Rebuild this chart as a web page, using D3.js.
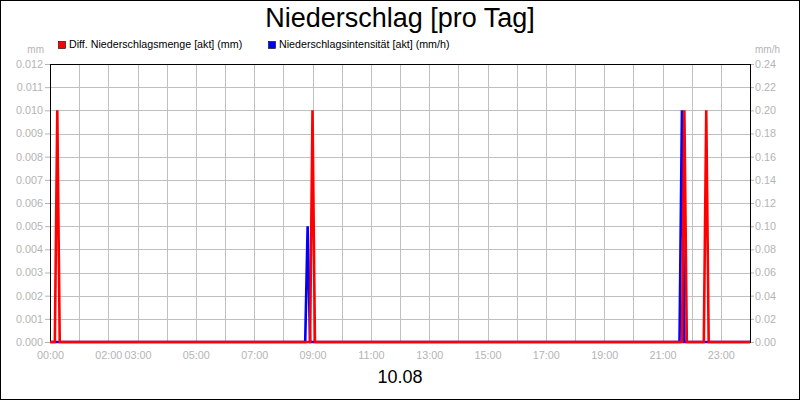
<!DOCTYPE html>
<html>
<head>
<meta charset="utf-8">
<script src="https://cdn.jsdelivr.net/npm/d3@7"></script>
<style>
  html, body { margin: 0; padding: 0; background: #fff; }
  svg { display: block; }
  text { font-family: "Liberation Sans", Arial, sans-serif; }
</style>
</head>
<body>
<svg id="chart" width="800" height="400"></svg>
<script>
// ---- data ----
const title = "Niederschlag [pro Tag]";
const dateLabel = "10.08";
const seriesNames = ["Diff. Niederschlagsmenge [akt] (mm)", "Niederschlagsintensität [akt] (mm/h)"];
const seriesColors = ["#ff0000", "#0000ff"];
// red series (mm), times in "HH:MM"
const amountTimes  = ["00:00","00:10","00:15","00:20","08:55","09:00","09:05","21:40","21:45","21:50","22:25","22:30","22:35","24:00"];
const amountValues = [0, 0, 0.010, 0, 0, 0.010, 0, 0, 0.010, 0, 0, 0.010, 0, 0];
// blue series (mm/h)
const intensityTimes  = ["00:00","08:45","08:50","08:55","21:35","21:40","21:45","24:00"];
const intensityValues = [0, 0, 0.10, 0, 0, 0.20, 0, 0];
// axis ticks
const xTickLabels = ["00:00","02:00","03:00","05:00","07:00","09:00","11:00","13:00","15:00","17:00","19:00","21:00","23:00"];
const leftTicks  = [0,0.001,0.002,0.003,0.004,0.005,0.006,0.007,0.008,0.009,0.010,0.011,0.012];
const rightTicks = [0,0.02,0.04,0.06,0.08,0.10,0.12,0.14,0.16,0.18,0.20,0.22,0.24];
const hourGrid = d3.range(0, 25);

// ---- layout ----
const W = 800, H = 400;
const m = { left: 50, right: 750, top: 64, bottom: 342 };
const svg = d3.select("#chart");
const gray = "#b4b4b4";

const toH = s => { const [h, mm] = s.split(":").map(Number); return h + mm / 60; };

const x = d3.scaleLinear().domain([0, 24]).range([m.left, m.right]);
const yL = d3.scaleLinear().domain([0, 0.012]).range([m.bottom, m.top]);
const yR = d3.scaleLinear().domain([0, 0.24]).range([m.bottom, m.top]);

// outer border
svg.append("rect").attr("x", 0.5).attr("y", 0.5).attr("width", W - 1).attr("height", H - 1)
  .attr("fill", "#fff").attr("stroke", "#000");

// title
svg.append("text").attr("x", 400).attr("y", 27).attr("text-anchor", "middle")
  .attr("font-size", 27).attr("fill", "#000").text(title);

// date label
svg.append("text").attr("x", 400).attr("y", 383).attr("text-anchor", "middle")
  .attr("font-size", 18).attr("fill", "#000").text(dateLabel);

// legend
const legX = [58, 268];
seriesNames.forEach((n, i) => {
  svg.append("rect").attr("x", legX[i] + 0.5).attr("y", 41.5).attr("width", 7).attr("height", 7)
    .attr("fill", seriesColors[i]).attr("stroke", "#000").attr("stroke-width", 0.6);
  svg.append("text").attr("x", legX[i] + 11).attr("y", 48).attr("font-size", 10.7)
    .attr("fill", "#000").text(n);
});

// unit labels
svg.append("text").attr("x", 44).attr("y", 52.5).attr("text-anchor", "end")
  .attr("font-size", 10).attr("fill", gray).text("mm");
svg.append("text").attr("x", 755).attr("y", 52.5).attr("text-anchor", "start")
  .attr("font-size", 10).attr("fill", gray).text("mm/h");

// grid
const grid = svg.append("g").attr("stroke", "#c0c0c0").attr("stroke-width", 1).attr("shape-rendering", "crispEdges");
grid.selectAll("line.v").data(hourGrid.slice(1, 24)).join("line")
  .attr("x1", d => Math.round(x(d)) + 0.5).attr("x2", d => Math.round(x(d)) + 0.5)
  .attr("y1", m.top).attr("y2", m.bottom);
grid.selectAll("line.h").data(leftTicks.slice(1, 12)).join("line")
  .attr("x1", m.left).attr("x2", m.right)
  .attr("y1", d => Math.round(yL(d)) + 0.5).attr("y2", d => Math.round(yL(d)) + 0.5);

// left axis
const axL = d3.axisLeft(yL).tickValues(leftTicks).tickFormat(d3.format(".3f")).tickSize(5).tickPadding(2);
const gL = svg.append("g").attr("transform", `translate(${m.left},0)`).call(axL);
gL.select(".domain").remove();
gL.selectAll("line").attr("stroke", gray);
gL.selectAll("text").attr("fill", gray).attr("font-size", 10.8).attr("font-family", "Liberation Sans, Arial, sans-serif");

// right axis
const axR = d3.axisRight(yR).tickValues(rightTicks).tickFormat(d3.format(".2f")).tickSize(4).tickPadding(1);
const gR = svg.append("g").attr("transform", `translate(${m.right},0)`).call(axR);
gR.select(".domain").remove();
gR.selectAll("line").attr("stroke", gray);
gR.selectAll("text").attr("fill", gray).attr("font-size", 10.8).attr("font-family", "Liberation Sans, Arial, sans-serif");

// bottom axis labels
const axB = d3.axisBottom(x).tickValues(xTickLabels.map(toH)).tickFormat((d, i) => xTickLabels[i]).tickSize(0).tickPadding(9);
const gB = svg.append("g").attr("transform", `translate(0,${m.bottom})`).call(axB);
gB.select(".domain").remove();
gB.selectAll("text").attr("fill", gray).attr("font-size", 10.8).attr("font-family", "Liberation Sans, Arial, sans-serif");

// plot frame
svg.append("rect").attr("x", m.left + 0.5).attr("y", m.top + 0.5)
  .attr("width", m.right - m.left).attr("height", m.bottom - m.top)
  .attr("fill", "none").attr("stroke", "#000");

// lines
const lineB = d3.line().x((d, i) => x(toH(intensityTimes[i]))).y(d => yR(d));
const lineR = d3.line().x((d, i) => x(toH(amountTimes[i]))).y(d => yL(d));
svg.append("path").datum(intensityValues).attr("d", lineB)
  .attr("fill", "none").attr("stroke", seriesColors[1]).attr("stroke-width", 2.6).attr("stroke-linejoin", "miter");
svg.append("path").datum(amountValues).attr("d", lineR)
  .attr("fill", "none").attr("stroke", seriesColors[0]).attr("stroke-width", 2.6).attr("stroke-linejoin", "miter");
</script>
</body>
</html>
